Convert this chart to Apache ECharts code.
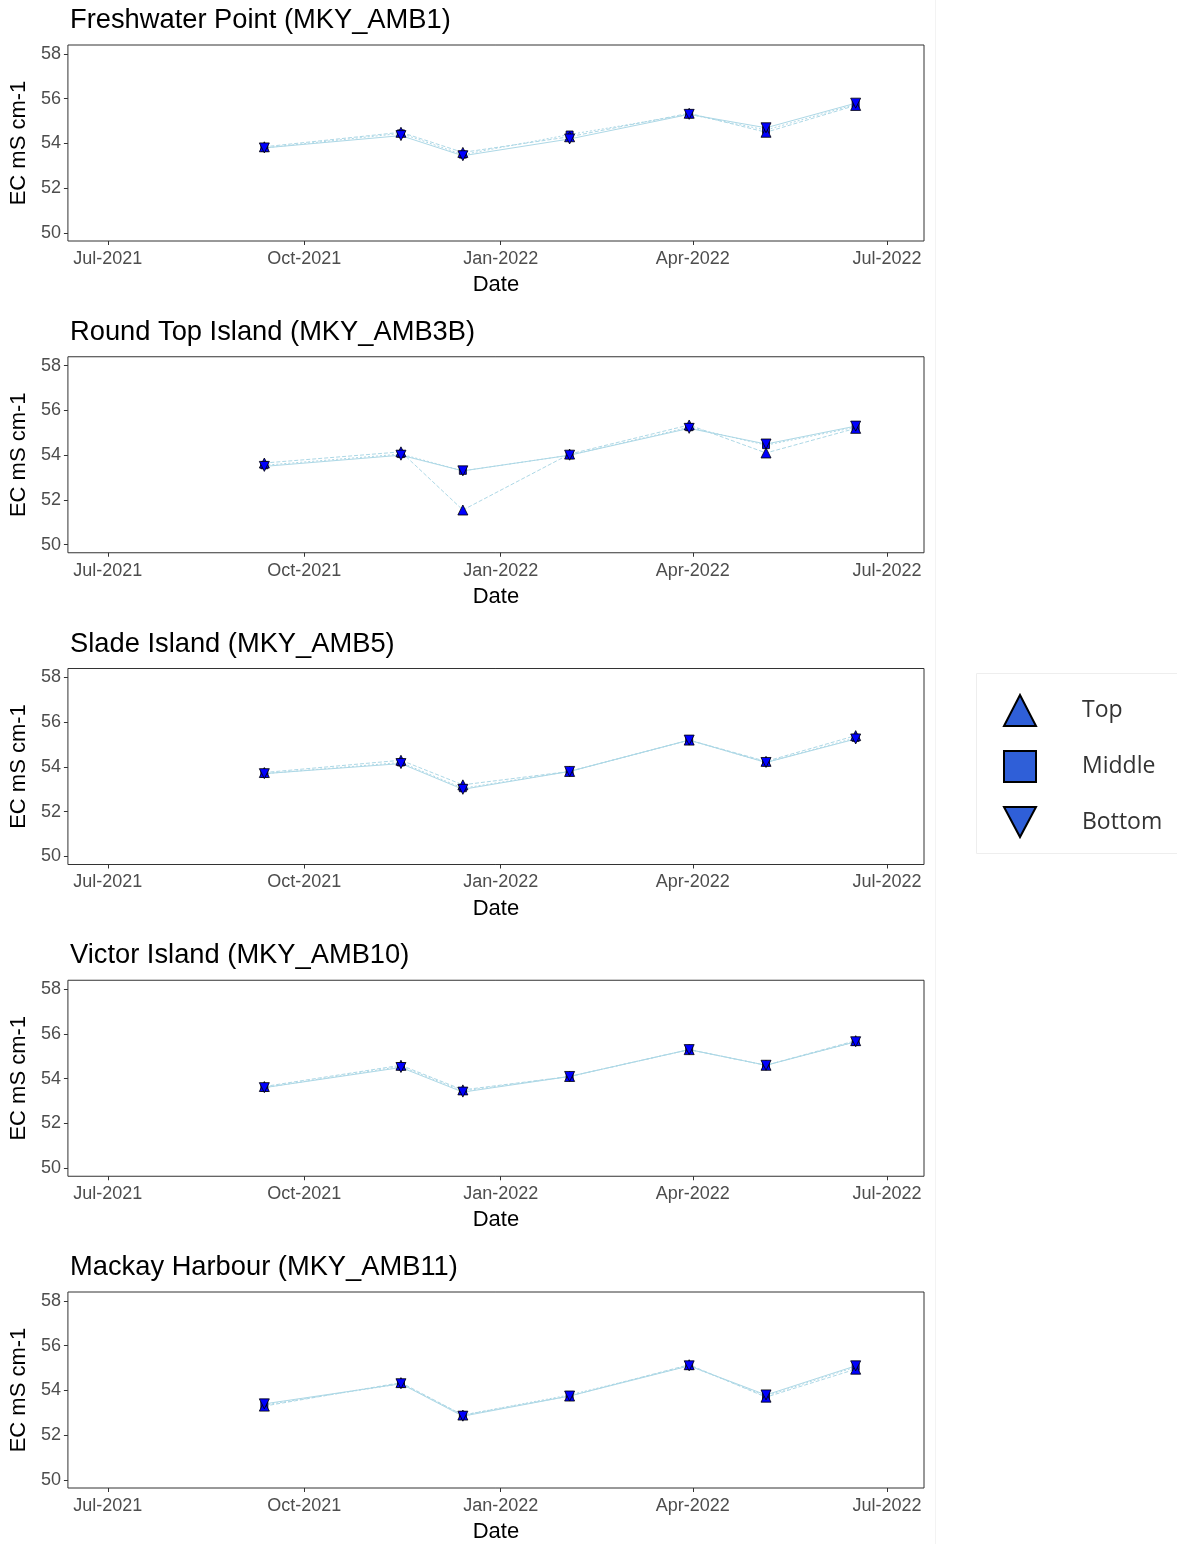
<!DOCTYPE html>
<html><head><meta charset="utf-8">
<script src="https://cdn.jsdelivr.net/npm/echarts@6/dist/echarts.min.js"></script>
<style>html,body{margin:0;padding:0;background:#fff}#c{width:1177px;height:1544px}</style>
</head><body><div id="c"></div>
<script>
// ---------- data ----------
const siteNames = ['Freshwater Point (MKY_AMB1)','Round Top Island (MKY_AMB3B)','Slade Island (MKY_AMB5)','Victor Island (MKY_AMB10)','Mackay Harbour (MKY_AMB11)'];
const sampleDates = ['2021-09-12','2021-11-15','2021-12-14','2022-02-02','2022-03-30','2022-05-05','2022-06-16'];
const xTickDates = ['2021-07-01','2021-10-01','2022-01-01','2022-04-01','2022-07-01'];
const yTicks = [50,52,54,56,58];
const depths = ['Top','Middle','Bottom'];

const freshwaterTop    = [53.85,54.5,53.6,54.3,55.35,54.5,55.7];
const freshwaterMiddle = [53.8,54.45,53.5,54.4,55.3,54.6,55.75];
const freshwaterBottom = [53.8,54.35,53.45,54.2,55.3,54.7,55.8];

const roundTopTop    = [53.65,54.15,51.55,54.05,55.35,54.1,55.2];
const roundTopMiddle = [53.55,54.05,53.3,54.0,55.25,54.45,55.25];
const roundTopBottom = [53.5,54.0,53.3,54.0,55.2,54.5,55.3];

const sladeTop    = [53.75,54.3,53.2,53.8,55.2,54.25,55.4];
const sladeMiddle = [53.7,54.2,53.05,53.8,55.2,54.2,55.3];
const sladeBottom = [53.7,54.15,53.0,53.8,55.2,54.2,55.25];

const victorTop    = [53.65,54.6,53.5,54.1,55.3,54.6,55.7];
const victorMiddle = [53.6,54.55,53.45,54.1,55.3,54.6,55.65];
const victorBottom = [53.6,54.5,53.4,54.1,55.3,54.6,55.65];

const mackayTop    = [53.3,54.35,52.9,53.75,55.15,53.7,54.95];
const mackayMiddle = [53.35,54.3,52.9,53.8,55.1,53.75,55.05];
const mackayBottom = [53.4,54.3,52.85,53.75,55.1,53.8,55.1];

const siteValues = [
  [freshwaterTop, freshwaterMiddle, freshwaterBottom],
  [roundTopTop, roundTopMiddle, roundTopBottom],
  [sladeTop, sladeMiddle, sladeBottom],
  [victorTop, victorMiddle, victorBottom],
  [mackayTop, mackayMiddle, mackayBottom]
];

// ---------- helpers ----------
const ts = s => { const p = s.split('-').map(Number); return Date.UTC(p[0], p[1]-1, p[2]); };
const MONTHS = ['Jan','Feb','Mar','Apr','May','Jun','Jul','Aug','Sep','Oct','Nov','Dec'];
const fmtDate = v => { const d = new Date(v); return MONTHS[d.getUTCMonth()] + '-' + d.getUTCFullYear(); };
const xMin = ts('2021-06-12') + 7*3600e3;
const xMax = ts('2022-07-18') + 7*3600e3;
const xTickVals = xTickDates.map(ts);

const PANEL_H = 311.75;
const symbolFor = ['triangle','rect','triangle'];
const rotFor = [0,0,180];
const sizeFor = [10,7,10];
const zFor = [4,3,5];
const dashFor = [[4,2],[2,2],'solid'];

const grids=[], xAxes=[], yAxes=[], series=[], titles=[];
siteNames.forEach((name,k)=>{
  const top = 45 + PANEL_H*k;
  grids.push({left:67, right:253, top:top, height:196, show:true, borderColor:'#333', borderWidth:1, backgroundColor:'#fff'});
  titles.push({text:name, left:70, top:7+PANEL_H*k, padding:0,
    textStyle:{fontFamily:'Liberation Sans', fontSize:27.3, fontWeight:'normal', color:'#000'}});
  xAxes.push({type:'value', gridIndex:k, min:xMin, max:xMax,
    name:'Date', nameLocation:'middle', nameGap:33,
    nameTextStyle:{fontFamily:'Liberation Sans', fontSize:22, color:'#000'},
    axisLine:{show:false}, splitLine:{show:false},
    axisTick:{show:true, length:4, lineStyle:{color:'#333'}, customValues:xTickVals},
    axisLabel:{customValues:xTickVals, formatter:fmtDate, margin:9,
      fontFamily:'Liberation Sans', fontSize:18, color:'#4d4d4d', hideOverlap:false}
  });
  yAxes.push({type:'value', gridIndex:k, min:49.64, max:58.4,
    name:'EC mS cm-1', nameLocation:'middle', nameGap:36, nameRotate:90,
    nameTextStyle:{fontFamily:'Liberation Sans', fontSize:22, color:'#000'},
    axisLine:{show:false}, splitLine:{show:false},
    axisTick:{show:true, length:4, lineStyle:{color:'#333'}, customValues:yTicks},
    axisLabel:{customValues:yTicks, margin:7, fontFamily:'Liberation Sans', fontSize:18, color:'#4d4d4d'}
  });
  depths.forEach((d,j)=>{
    const data = sampleDates.map((s,i)=>[ts(s)+7*3600e3, siteValues[k][j][i]]);
    series.push({type:'line', name:d+' line', xAxisIndex:k, yAxisIndex:k, data:data,
      showSymbol:false, silent:true, z:2,
      lineStyle:{color:'#add8e6', width:1, type:dashFor[j]}});
    series.push({type:'scatter', name:d, xAxisIndex:k, yAxisIndex:k, data:data,
      symbol:symbolFor[j], symbolRotate:rotFor[j], symbolSize:sizeFor[j], z:zFor[j],
      itemStyle:{color:'#0000ff', borderColor:'#000', borderWidth:0.8, opacity:1}});
  });
});

const legendStyle = {color:'#2f5fd8', borderColor:'#000', borderWidth:2};
const option = {
  backgroundColor:'#fff',
  animation:false,
  title:titles,
  grid:grids, xAxis:xAxes, yAxis:yAxes, series:series,
  legend:{
    orient:'vertical', left:1003, top:694, padding:0, itemWidth:32, itemHeight:31, itemGap:23,
    selectedMode:false,
    textStyle:{fontFamily:'Open Sans', fontSize:23, color:'#333', padding:[0,0,0,41]},
    data:[
      {name:'Top', icon:'triangle', itemStyle:legendStyle},
      {name:'Middle', icon:'rect', itemStyle:legendStyle},
      {name:'Bottom', icon:'path://M0,0 L10,0 L5,9.4 Z', itemStyle:legendStyle}
    ]
  },
  graphic:[
    {type:'line', shape:{x1:935.5,y1:0,x2:935.5,y2:1544}, style:{stroke:'#f3f3f3', lineWidth:1}, silent:true},
    {type:'rect', shape:{x:976.5,y:673.5,width:210,height:180}, style:{fill:'none', stroke:'#eeeeee', lineWidth:1}, silent:true}
  ]
};
const chart = echarts.init(document.getElementById('c'), null, {renderer:'canvas'});
chart.setOption(option);
</script></body></html>
